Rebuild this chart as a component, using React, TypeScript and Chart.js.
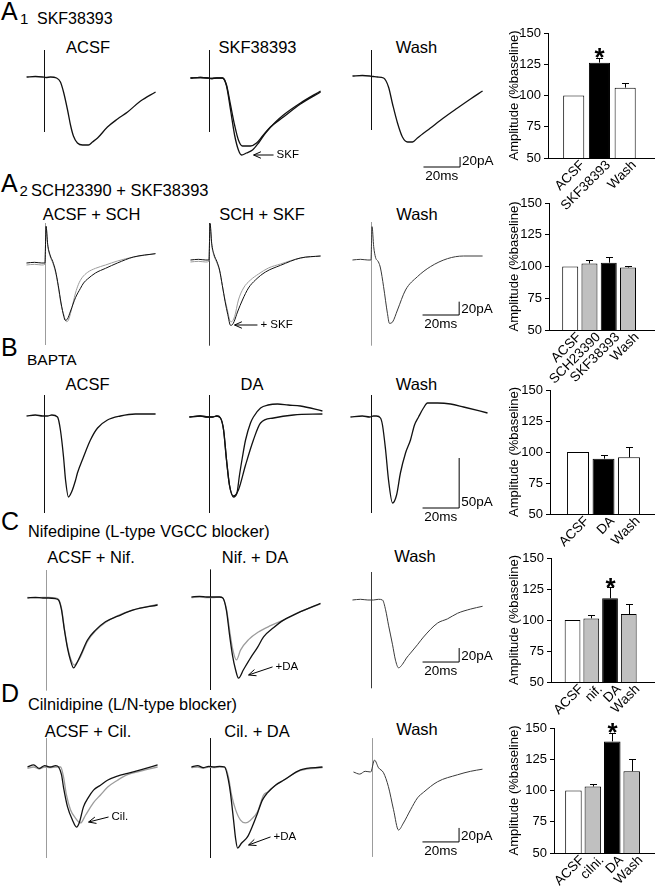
import React, { useEffect, useRef } from 'react';
import { Chart, registerables } from 'chart.js';
Chart.register(...registerables);

const FONT = '"Liberation Sans", Arial, Helvetica, sans-serif';
type Pt = [number, number];

// ---------- Trace data: [time (ms after stimulus), current (pA vs baseline)] ----------
// A1  SKF38393
const A1_ACSF: Pt[] = [[-9.8,0],[-5,1],[-1,0],[0.8,-1],[3.3,0],[6.6,-2],[8.7,-10],[10.4,-30],[12.6,-66],[14.2,-96],[15.8,-118],[18,-132],[20.8,-136],[24,-136],[26.2,-130],[29,-122],[34.4,-100],[39.9,-84],[45.4,-70],[52.5,-48],[60.7,-30]];
const A1_CTRL: Pt[] = [[-10.4,0],[-5,1],[-1,0],[0.8,-1],[4,0],[7.1,0],[9.3,-14],[11.5,-54],[13.7,-94],[15.8,-124],[18,-136],[22.4,-136],[25.7,-130],[29,-116],[33.3,-98],[40.4,-78],[49.7,-52],[60.7,-28]];
const A1_SKF: Pt[] = [[-10.4,0],[-5,1],[-1,0],[0.8,-1],[4,0],[7.1,0],[9.3,-16],[11.5,-64],[13.7,-114],[15.8,-144],[17.5,-154],[20.2,-150],[23.5,-144],[26.8,-130],[30.6,-110],[36.1,-88],[40.4,-74],[49.7,-50],[60.7,-26]];
const A1_WASH: Pt[] = [[-10.4,0],[-5,1],[-1,0],[1,-1],[3.3,-2],[6.6,-4],[9.3,-22],[11.5,-56],[14.2,-94],[16.9,-122],[19.7,-132],[22.4,-132],[25.1,-124],[32.2,-104],[39.3,-84],[47,-64],[54.1,-46],[60.7,-30]];
const A1_ART: Pt[] = [[54,-110],[56,-108],[52,-108]];

// A2  SCH23390 + SKF38393
const A2_P1_BLACK: Pt[] = [[-10.4,0],[-6,1],[-2,0],[-0.3,0],[0.3,55],[1.2,28],[2.5,12],[4,2],[5.5,-12],[7,-34],[8.5,-60],[10,-80],[10.8,-86],[12,-84],[13.7,-72],[16.4,-52],[19.1,-38],[20.8,-30],[23,-24],[27.3,-15],[32.8,-8],[39.3,0],[48.1,9],[60.1,14]];
const A2_P1_GRAY: Pt[] = [[-10.4,-3],[-6,-2],[-2,-3],[-0.3,-2],[0.3,55],[1.2,26],[2.5,10],[4,0],[5.5,-14],[7,-36],[8.5,-62],[10,-78],[11.5,-88],[12.5,-86],[14,-72],[16.4,-45],[18,-32],[20,-22],[23,-14],[27.3,-8],[32.8,-3],[39.3,3],[48.1,9],[60.1,14]];
const A2_P2_BLACK: Pt[] = [[-10.4,0],[-6,1],[-2,0],[-0.3,0],[0.3,55],[1.2,25],[2.5,8],[4,-2],[5.5,-15],[7,-38],[8.5,-62],[10,-82],[11.5,-98],[12.5,-97],[13.5,-92],[15.3,-78],[18,-60],[21.3,-42],[25.1,-30],[30.6,-18],[38.8,-8],[49.7,3],[60.7,6]];
const A2_P2_GRAY: Pt[] = [[-10.4,-3],[-6,-2],[-2,-3],[-0.3,-2],[0.3,53],[1.2,23],[2.5,6],[4,-4],[5.5,-16],[7,-38],[8.5,-60],[9.8,-75],[11,-90],[11.8,-93],[13.7,-85],[15.8,-60],[18.6,-42],[22.4,-30],[26.8,-21],[32.2,-12],[38.8,-6],[49.7,3],[60.7,6]];
const A2_WASH: Pt[] = [[-10.4,0],[-6,1],[-2,0],[-0.3,0],[0.3,50],[1.2,20],[2.2,4],[3.8,-3],[4.9,-12],[6.6,-40],[8.7,-80],[9.8,-95],[11.5,-93],[14.2,-75],[18.6,-45],[25.1,-25],[32.2,-10],[41.5,2],[50.3,6],[60.7,6]];
const A2_ART: Pt[] = [[60,-123],[55,-128],[57,-128]];

// B  BAPTA
const B_ACSF: Pt[] = [[-9.8,0],[-5,1],[-1,0],[1.6,0],[4,1],[7.1,-1],[8.7,-14],[10.4,-41],[11.5,-64],[13.1,-81],[14.8,-76],[17,-64],[18,-57],[21.3,-41],[25.1,-24],[29,-12],[34.4,-4],[41.5,0],[49.7,2],[60.7,2]];
const B_DA_1: Pt[] = [[-11,0],[-5,1],[-1,0],[1.6,0],[4,1],[6,-1],[7.7,-13],[9.3,-43],[10.9,-68],[13.1,-80],[15,-76],[16.4,-58],[18,-40],[19.7,-23],[22.4,-6],[24,0],[27.9,9],[32,12],[37.2,13],[43,12],[49.7,11],[61.7,6]];
const B_DA_2: Pt[] = [[-11,0],[-5,1],[-1,0],[1.6,0],[4,1],[6,-1],[7.7,-13],[9.3,-43],[10.9,-68],[13.1,-79],[15.8,-73],[19.7,-48],[24,-23],[27.9,-6],[35,-1],[45.9,2],[61.7,3]];
const B_WASH: Pt[] = [[-11.5,0],[-5,1],[-1,0],[1.1,1],[2.7,1],[4.9,-1],[6,-8],[7.7,-33],[9.3,-63],[11.5,-86],[13.7,-78],[15.8,-56],[18.6,-36],[21.3,-23],[23.5,-8],[25.7,0],[28.4,9],[30.6,14],[36.1,14],[43.2,13],[50.3,10],[63.4,4]];
const B_ART: Pt[] = [[21,-97],[22,-96],[22,-96]];

// C  Nifedipine
const C_P1_BLACK: Pt[] = [[-10.4,0],[-6,1],[-2,0],[1.1,0],[4.9,-1],[6.6,-3],[8.2,-17],[9.8,-46],[11.5,-72],[13.1,-89],[14.8,-100],[16.4,-94],[18.6,-82],[22.4,-60],[26.8,-46],[32.2,-34],[39,-26],[47.5,-17],[60.7,-10]];
const C_P1_GRAY: Pt[] = [[-10.4,1],[-6,0],[-2,1],[1.1,1],[4.9,0],[6.6,-2],[8.2,-15],[9.8,-44],[11.5,-70],[13.1,-86],[15.3,-96],[17,-91],[18.6,-84],[22.4,-62],[26.8,-47],[32.2,-35],[39,-25],[47.5,-17],[60.7,-9]];
const C_P2_BLACK: Pt[] = [[-10.4,0],[-6,1],[-2,0],[1.1,0],[4.9,0],[6.6,-1],[8.7,-19],[10.4,-54],[12,-83],[13.7,-104],[15.3,-116],[18,-104],[21.9,-87],[25.7,-72],[29,-57],[34.4,-44],[39.9,-33],[49.2,-21],[60.1,-9]];
const C_P2_GRAY: Pt[] = [[-10.4,-1],[-6,0],[-2,-1],[1.1,-1],[4.9,0],[6.6,-1],[8.7,-17],[10.4,-47],[12,-73],[14.2,-90],[16.4,-76],[20.8,-61],[26.2,-50],[32.8,-41],[39.9,-33],[49.2,-21],[60.1,-10]];
const C_WASH: Pt[] = [[-10.4,0],[-6,1],[-2,0],[1.1,0],[3.8,1],[6,0],[7.7,-14],[9.3,-36],[11.5,-64],[13.1,-86],[14.8,-97],[16.9,-92],[19.1,-83],[21.3,-76],[25.1,-64],[28.4,-53],[36.1,-33],[41.5,-27],[47,-19],[54.1,-13],[60.7,-9]];
const C_ART: Pt[] = [[40,-132],[39,-133],[40,-126]];

// D  Cilnidipine
const D_P1_BLACK: Pt[] = [[-10.4,0],[-7,3],[-4,-2],[-1,2],[2,0],[5,2],[6.6,0],[8.2,-11],[9.3,-29],[11.5,-57],[14.2,-76],[16.4,-86],[18,-79],[20.2,-57],[23,-43],[25.7,-33],[29.5,-26],[33.3,-19],[38.8,-13],[44.3,-9],[51.4,-4],[60.7,3]];
const D_P1_GRAY: Pt[] = [[-10.4,-2],[-7,0],[-4,-3],[-1,0],[2,-1],[5,0],[7.7,0],[9.3,-14],[10.9,-40],[13.1,-61],[15.8,-73],[18.6,-80],[21.3,-69],[25.7,-51],[29.5,-40],[33.3,-29],[38.8,-19],[44.3,-11],[51.4,-6],[60.7,0]];
const D_P2_BLACK: Pt[] = [[-10.4,0],[-7,2],[-4,-1],[-1,1],[2,0],[5,1],[7.7,0],[9.8,-19],[10.9,-37],[12.6,-76],[13.7,-102],[14.8,-116],[16.9,-109],[20.2,-100],[23,-84],[25.7,-66],[28.4,-47],[31.1,-37],[35.5,-26],[39.9,-19],[49.2,-4],[61.2,0]];
const D_P2_GRAY: Pt[] = [[-10.4,-1],[-7,0],[-4,-2],[-1,0],[2,-1],[5,0],[7.7,0],[9.8,-14],[11.5,-40],[13.7,-61],[16.4,-76],[19.1,-80],[21.9,-76],[25.7,-64],[29,-40],[31.1,-36],[35.5,-26],[39.9,-19],[49.2,-5],[61.2,-1]];
const D_WASH: Pt[] = [[-10.4,0],[-7,-3],[-4,1],[-1,0],[1.1,17],[3.3,6],[6,-1],[8.7,-21],[11.5,-54],[14.2,-83],[16.9,-73],[20.8,-54],[24.6,-37],[27.9,-29],[35.5,-14],[46.4,-4],[53.6,1],[60.1,4]];
const D_ART: Pt[] = [[41,-130],[41,-130],[48,-121]];

// ---------- Bar data (% baseline) ----------
const A1_CATS = ['ACSF', 'SKF38393', 'Wash'];
const A1_MEAN = [100, 126.3, 106.3];
const A1_SEM = [0, 3.7, 3.4];
const A1_SIG = [false, true, false];

const A2_CATS = ['ACSF', 'SCH23390', 'SKF38393', 'Wash'];
const A2_MEAN = [100, 102.4, 103, 99.2];
const A2_SEM = [0, 2.4, 4.8, 1.3];
const A2_SIG = [false, false, false, false];

const B_CATS = ['ACSF', 'DA', 'Wash'];
const B_MEAN = [100, 94.6, 95.7];
const B_SEM = [0, 3, 8.3];
const B_SIG = [false, false, false];

const C_CATS = ['ACSF', 'nif.', 'DA', 'Wash'];
const C_MEAN = [100, 101.3, 117.5, 104.8];
const C_SEM = [0, 2.7, 8.8, 8.2];
const C_SIG = [false, false, true, false];

const D_CATS = ['ACSF', 'cilni.', 'DA', 'Wash'];
const D_MEAN = [100, 103.2, 139.3, 115.4];
const D_SEM = [0, 2.1, 6.7, 9.8];
const D_SIG = [false, false, true, false];

const Y_TICKS = { min: 50, max: 150, step: 25 };
const SCALE_MS = 20;
const SCALE_PA = [20, 20, 50, 20, 20];

// ---------- Styles / layout ----------
const BLACK = '#111';
const GRAY = '#9c9c9c';
const DARK = '#3a3a3a';
const W = '#ffffff', K = '#000000', G = '#c0c0c0';

const PX_MS = 1.83;
const PANEL_W = 185;
const T_MIN = -22.5 / PX_MS;
const T_MAX = T_MIN + PANEL_W / PX_MS;

type Trace = { pts: Pt[]; color: string; w?: number };
type Arrow = { head: Pt; tail: Pt; text: string };
type Panel = { artX: number; baseY: number; traces: Trace[]; art: Pt; artColor: string; scale?: { t0: number; v0: number; ms: number; pA: number; pAlabel: string }; arrows?: Arrow[] };
type Row = { k: number; top: number; bottom: number; panels: Panel[] };

const ROWS: Row[] = [
  { k: 2, top: 40, bottom: 188, panels: [
    { artX: 44, baseY: 77, traces: [{ pts: A1_ACSF, color: BLACK }], art: A1_ART[0], artColor: BLACK },
    { artX: 209, baseY: 78, traces: [{ pts: A1_SKF, color: BLACK }, { pts: A1_CTRL, color: BLACK }], art: A1_ART[1], artColor: BLACK,
      arrows: [{ head: [24.1, -154], tail: [35, -154], text: 'SKF' }] },
    { artX: 371, baseY: 76, traces: [{ pts: A1_WASH, color: BLACK }], art: A1_ART[2], artColor: BLACK,
      scale: { t0: 28.4, v0: -182, ms: SCALE_MS, pA: SCALE_PA[0], pAlabel: '20pA' } },
  ] },
  { k: 1.5, top: 215, bottom: 350, panels: [
    { artX: 45, baseY: 263, traces: [{ pts: A2_P1_BLACK, color: BLACK, w: 1 }, { pts: A2_P1_GRAY, color: GRAY, w: 1 }], art: A2_ART[0], artColor: GRAY },
    { artX: 209, baseY: 260, traces: [{ pts: A2_P2_BLACK, color: BLACK, w: 1 }, { pts: A2_P2_GRAY, color: GRAY, w: 1 }], art: A2_ART[1], artColor: DARK,
      arrows: [{ head: [13.7, -97.5], tail: [26.2, -97.5], text: '+ SKF' }] },
    { artX: 371, baseY: 260, traces: [{ pts: A2_WASH, color: DARK, w: 1 }], art: A2_ART[2], artColor: GRAY,
      scale: { t0: 27.9, v0: -82.5, ms: SCALE_MS, pA: SCALE_PA[1], pAlabel: '20pA' } },
  ] },
  { k: 1, top: 388, bottom: 527, panels: [
    { artX: 44, baseY: 416, traces: [{ pts: B_ACSF, color: BLACK }], art: B_ART[0], artColor: BLACK },
    { artX: 209, baseY: 417, traces: [{ pts: B_DA_1, color: BLACK }, { pts: B_DA_2, color: BLACK }], art: B_ART[1], artColor: BLACK },
    { artX: 371, baseY: 417, traces: [{ pts: B_WASH, color: BLACK }], art: B_ART[2], artColor: BLACK,
      scale: { t0: 27.9, v0: -91, ms: SCALE_MS, pA: SCALE_PA[2], pAlabel: '50pA' } },
  ] },
  { k: 1.43, top: 565, bottom: 697, panels: [
    { artX: 46, baseY: 598, traces: [{ pts: C_P1_BLACK, color: BLACK }, { pts: C_P1_GRAY, color: GRAY }], art: C_ART[0], artColor: GRAY },
    { artX: 210, baseY: 597, traces: [{ pts: C_P2_BLACK, color: BLACK }, { pts: C_P2_GRAY, color: GRAY }], art: C_ART[1], artColor: BLACK,
      arrows: [{ head: [20.8, -111.5], tail: [33.9, -100], text: '+DA' }] },
    { artX: 371, baseY: 600, traces: [{ pts: C_WASH, color: DARK, w: 1 }], art: C_ART[2], artColor: DARK,
      scale: { t0: 27.9, v0: -88.7, ms: SCALE_MS, pA: SCALE_PA[3], pAlabel: '20pA' } },
  ] },
  { k: 1.43, top: 733, bottom: 864, panels: [
    { artX: 46, baseY: 767, traces: [{ pts: D_P1_BLACK, color: BLACK }, { pts: D_P1_GRAY, color: GRAY }], art: D_ART[0], artColor: GRAY,
      arrows: [{ head: [23, -78.7], tail: [33.9, -71.5], text: 'Cil.' }] },
    { artX: 210, baseY: 767, traces: [{ pts: D_P2_BLACK, color: BLACK }, { pts: D_P2_GRAY, color: GRAY }], art: D_ART[1], artColor: BLACK,
      arrows: [{ head: [20.8, -111.5], tail: [32.8, -100], text: '+DA' }] },
    { artX: 372, baseY: 772, traces: [{ pts: D_WASH, color: DARK, w: 1 }], art: D_ART[2], artColor: GRAY,
      scale: { t0: 27.3, v0: -100, ms: SCALE_MS, pA: SCALE_PA[4], pAlabel: '20pA' } },
  ] },
];

type BarSpec = { cats: string[]; mean: number[]; sem: number[]; sig: boolean[]; fills: string[]; axisX: number; y150: number; y50: number; xMin: number; xMax: number; barPct: number };
const BARS: BarSpec[] = [
  { cats: A1_CATS, mean: A1_MEAN, sem: A1_SEM, sig: A1_SIG, fills: [W, K, W], axisX: 548, y150: 33, y50: 158, xMin: 0, xMax: 4.16, barPct: 0.82 },
  { cats: A2_CATS, mean: A2_MEAN, sem: A2_SEM, sig: A2_SIG, fills: [W, G, K, G], axisX: 549, y150: 203, y50: 330, xMin: -0.1, xMax: 5.4, barPct: 0.83 },
  { cats: B_CATS, mean: B_MEAN, sem: B_SEM, sig: B_SIG, fills: [W, K, W], axisX: 550, y150: 390, y50: 514, xMin: -0.1, xMax: 4.02, barPct: 0.86 },
  { cats: C_CATS, mean: C_MEAN, sem: C_SEM, sig: C_SIG, fills: [W, G, K, G], axisX: 551, y150: 558, y50: 682, xMin: -0.15, xMax: 5.4, barPct: 0.84 },
  { cats: D_CATS, mean: D_MEAN, sem: D_SEM, sig: D_SIG, fills: [W, G, K, G], axisX: 554, y150: 728, y50: 853, xMin: 0, xMax: 5.2, barPct: 0.85 },
];

const BAR_LEFT = 495, BAR_W = 160, PAD_L = 8, PAD_T = 12, X_AX_H = 56;

function TraceChart({ row, panel }: { row: Row; panel: Panel }) {
  const ref = useRef<HTMLCanvasElement>(null);
  const left = panel.artX - 22;
  const top = row.top;
  const height = row.bottom - row.top;
  const yMax = (panel.baseY - row.top) * row.k;
  const yMin = (panel.baseY - row.bottom) * row.k;
  useEffect(() => {
    const ds: any[] = panel.traces.map((tr) => ({
      data: tr.pts.map(([x, y]) => ({ x, y })),
      showLine: true, borderColor: tr.color, borderWidth: tr.w ?? 1.3, pointRadius: 0,
      cubicInterpolationMode: 'monotone', fill: false,
    }));
    ds.push({ data: [{ x: 0, y: panel.art[0] }, { x: 0, y: panel.art[1] }], showLine: true, borderColor: panel.artColor, borderWidth: 1, pointRadius: 0, tension: 0 });
    if (panel.scale) {
      const s = panel.scale;
      ds.push({ data: [{ x: s.t0, y: s.v0 }, { x: s.t0 + s.ms, y: s.v0 }, { x: s.t0 + s.ms, y: s.v0 + s.pA }], showLine: true, borderColor: '#000', borderWidth: 1, pointRadius: 0, tension: 0 });
    }
    const annot = {
      id: 'annot',
      afterDatasetsDraw(chart: any) {
        const c = chart.ctx; const xs = chart.scales.x; const ys = chart.scales.y;
        c.save();
        c.fillStyle = '#000'; c.strokeStyle = '#000'; c.lineWidth = 1;
        if (panel.scale) {
          const s = panel.scale;
          const xr = xs.getPixelForValue(s.t0 + s.ms);
          const xm = xs.getPixelForValue(s.t0 + s.ms / 2);
          const yb = ys.getPixelForValue(s.v0);
          c.font = `13.5px ${FONT}`;
          c.textAlign = 'left'; c.textBaseline = 'alphabetic';
          c.fillText(s.pAlabel, xr + 2, yb - 2);
          c.textAlign = 'center'; c.textBaseline = 'top';
          c.fillText(`${s.ms}ms`, xm, yb + 3);
        }
        (panel.arrows || []).forEach((a) => {
          const hx = xs.getPixelForValue(a.head[0]), hy = ys.getPixelForValue(a.head[1]);
          const tx = xs.getPixelForValue(a.tail[0]), ty = ys.getPixelForValue(a.tail[1]);
          c.beginPath(); c.moveTo(tx, ty); c.lineTo(hx, hy);
          const ang = Math.atan2(ty - hy, tx - hx);
          [-0.42, 0.42].forEach((d) => { c.moveTo(hx, hy); c.lineTo(hx + 8 * Math.cos(ang + d), hy + 8 * Math.sin(ang + d)); });
          c.stroke();
          c.font = `11.5px ${FONT}`; c.textAlign = 'left'; c.textBaseline = 'middle';
          c.fillText(a.text, tx + 3, ty);
        });
        c.restore();
      },
    };
    const chart = new Chart(ref.current as HTMLCanvasElement, {
      type: 'scatter',
      data: { datasets: ds },
      options: {
        animation: false, responsive: false, maintainAspectRatio: false, events: [],
        layout: { padding: 0 },
        plugins: { legend: { display: false }, tooltip: { enabled: false } },
        scales: {
          x: { type: 'linear', display: false, min: T_MIN, max: T_MAX },
          y: { type: 'linear', display: false, min: yMin, max: yMax },
        },
      } as any,
      plugins: [annot],
    });
    return () => chart.destroy();
  }, []);
  return <canvas ref={ref} width={PANEL_W} height={height} style={{ position: 'absolute', left, top, width: PANEL_W, height }} />;
}

function BarChart({ spec }: { spec: BarSpec }) {
  const ref = useRef<HTMLCanvasElement>(null);
  const top = spec.y150 - PAD_T;
  const height = PAD_T + (spec.y50 - spec.y150) + X_AX_H;
  useEffect(() => {
    const errPlugin = {
      id: 'err',
      afterDatasetsDraw(chart: any) {
        const c = chart.ctx; const ys = chart.scales.y;
        const meta = chart.getDatasetMeta(0);
        const axisY = chart.chartArea.bottom;
        c.save(); c.strokeStyle = '#000'; c.fillStyle = '#000'; c.lineWidth = 1;
        meta.data.forEach((bar: any, i: number) => {
          const x = Math.round(bar.x) + 0.5;
          const yTop = ys.getPixelForValue(spec.mean[i]);
          const yErr = ys.getPixelForValue(spec.mean[i] + spec.sem[i]);
          if (spec.sem[i] > 0) {
            c.beginPath(); c.moveTo(x, yTop); c.lineTo(x, Math.round(yErr) + 0.5);
            c.moveTo(x - 3.5, Math.round(yErr) + 0.5); c.lineTo(x + 3.5, Math.round(yErr) + 0.5); c.stroke();
          }
          if (spec.sig[i]) {
            c.font = `bold 26px ${FONT}`; c.textAlign = 'center'; c.textBaseline = 'middle';
            c.fillText('*', x, yErr + 1);
          }
          // rotated category label
          c.save();
          c.translate(bar.x + 9, axisY + 5);
          c.rotate(-Math.PI / 4);
          c.font = `13.5px ${FONT}`; c.textAlign = 'right'; c.textBaseline = 'middle';
          c.fillText(spec.cats[i], 0, 0);
          c.restore();
        });
        c.restore();
      },
    };
    const chart = new Chart(ref.current as HTMLCanvasElement, {
      type: 'bar',
      data: { datasets: [{ data: spec.mean.map((v, i) => ({ x: i + 1, y: v })), backgroundColor: spec.fills, borderColor: '#000', borderWidth: 1, barPercentage: spec.barPct, categoryPercentage: 1 }] },
      options: {
        animation: false, responsive: false, maintainAspectRatio: false, events: [],
        layout: { padding: { left: PAD_L, top: PAD_T, right: 0, bottom: 0 } },
        plugins: { legend: { display: false }, tooltip: { enabled: false } },
        scales: {
          x: {
            type: 'linear', min: spec.xMin, max: spec.xMax, offset: false,
            grid: { display: false }, border: { display: true, color: '#000', width: 1 },
            afterBuildTicks: (s: any) => { s.ticks = spec.cats.map((_, i) => ({ value: i + 1 })); },
            afterFit: (s: any) => { s.height = X_AX_H; },
            ticks: { display: false },
          },
          y: {
            min: Y_TICKS.min, max: Y_TICKS.max,
            afterFit: (s: any) => { s.width = spec.axisX - BAR_LEFT - PAD_L; },
            ticks: { stepSize: Y_TICKS.step, color: '#000', font: { family: FONT, size: 13 }, padding: 3 },
            grid: { display: true, drawOnChartArea: false, drawTicks: true, tickLength: 4, color: '#000' },
            border: { display: true, color: '#000', width: 1 },
            title: { display: true, text: 'Amplitude (%baseline)', color: '#000', font: { family: FONT, size: 13 }, padding: { top: 4, bottom: 0 } },
          },
        },
      } as any,
      plugins: [errPlugin],
    });
    return () => chart.destroy();
  }, []);
  return <canvas ref={ref} width={BAR_W} height={height} style={{ position: 'absolute', left: BAR_LEFT, top, width: BAR_W, height }} />;
}

type TextSpec = { x: number; y: number; s: number; t: string; c?: boolean };
const HEADINGS: TextSpec[] = [
  { x: 1, y: 20, s: 25, t: 'A' }, { x: 20, y: 24, s: 15, t: '1' }, { x: 37, y: 25, s: 16, t: 'SKF38393' },
  { x: 1, y: 192, s: 25, t: 'A' }, { x: 19.5, y: 196, s: 15, t: '2' }, { x: 31, y: 196, s: 16.5, t: 'SCH23390 + SKF38393' },
  { x: 1, y: 356, s: 25, t: 'B' }, { x: 27, y: 365, s: 15.5, t: 'BAPTA' },
  { x: 1, y: 530, s: 25, t: 'C' }, { x: 28, y: 537, s: 16.3, t: 'Nifedipine (L-type VGCC blocker)' },
  { x: 1, y: 702, s: 25, t: 'D' }, { x: 28, y: 710, s: 16.3, t: 'Cilnidipine (L/N-type blocker)' },
];
const TITLES: TextSpec[] = [
  { x: 88, y: 53, s: 16.5, t: 'ACSF', c: true }, { x: 257.5, y: 53, s: 16.5, t: 'SKF38393', c: true }, { x: 416.5, y: 53, s: 16.5, t: 'Wash', c: true },
  { x: 91.5, y: 220, s: 16.5, t: 'ACSF + SCH', c: true }, { x: 262, y: 220, s: 16.5, t: 'SCH + SKF', c: true }, { x: 417, y: 220, s: 16.5, t: 'Wash', c: true },
  { x: 87.5, y: 390, s: 16.5, t: 'ACSF', c: true }, { x: 252, y: 390, s: 16.5, t: 'DA', c: true }, { x: 416.5, y: 390, s: 16.5, t: 'Wash', c: true },
  { x: 91, y: 563, s: 16.5, t: 'ACSF + Nif.', c: true }, { x: 255, y: 563, s: 16.5, t: 'Nif. + DA', c: true }, { x: 415, y: 562, s: 16.5, t: 'Wash', c: true },
  { x: 88, y: 737, s: 16.5, t: 'ACSF + Cil.', c: true }, { x: 257, y: 737, s: 16.5, t: 'Cil. + DA', c: true }, { x: 417, y: 735, s: 16.5, t: 'Wash', c: true },
];

function Txt({ spec }: { spec: TextSpec }) {
  const style: any = {
    position: 'absolute', left: spec.x, top: spec.y - 0.8465 * spec.s, fontSize: spec.s, lineHeight: `${spec.s}px`,
    fontFamily: FONT, whiteSpace: 'nowrap', color: '#000',
  };
  if (spec.c) style.transform = 'translateX(-50%)';
  return <div style={style}>{spec.t}</div>;
}

export default function App() {
  return (
    <div style={{ position: 'absolute', left: 0, top: 0, width: 655, height: 889, background: '#fff', overflow: 'hidden' }}>
      {HEADINGS.map((h, i) => <Txt key={'h' + i} spec={h} />)}
      {TITLES.map((h, i) => <Txt key={'t' + i} spec={h} />)}
      {ROWS.map((row, r) => row.panels.map((p, j) => <TraceChart key={`p${r}-${j}`} row={row} panel={p} />))}
      {BARS.map((b, i) => <BarChart key={'b' + i} spec={b} />)}
    </div>
  );
}
